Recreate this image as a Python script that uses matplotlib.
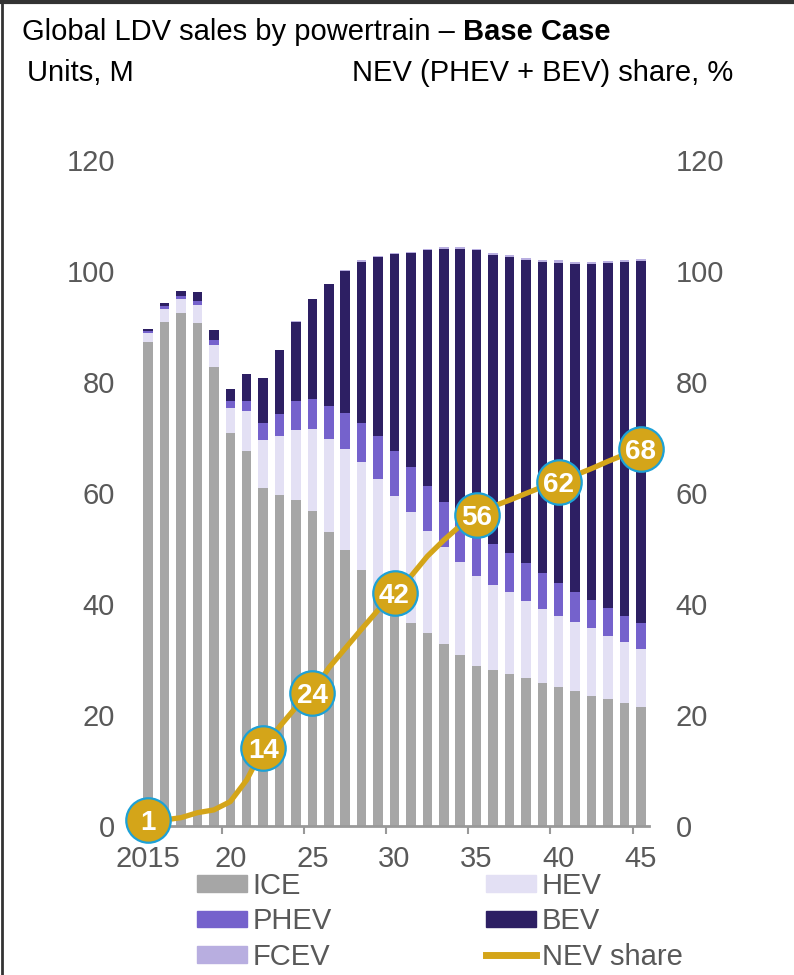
import numpy as np
import matplotlib
matplotlib.use("Agg")
import matplotlib.pyplot as plt
from matplotlib.patches import Patch
from matplotlib.lines import Line2D

plt.rcParams['font.family'] = ['Liberation Sans', 'DejaVu Sans']

years = list(range(2015, 2046))
year_labels = ["2015", "20", "25", "30", "35", "40", "45"]

ice = [87.2, 90.8, 92.4, 90.7, 82.7, 70.9, 67.5, 60.9, 59.7, 58.7,
       56.8, 52.9, 49.8, 46.2, 42.9, 39.6, 36.6, 34.7, 32.8, 30.9,
       28.9, 28.1, 27.4, 26.6, 25.8, 25.0, 24.3, 23.5, 22.9, 22.2, 21.4]
hev = [1.7, 2.4, 2.6, 3.2, 4.0, 4.4, 7.2, 8.6, 10.6, 12.7,
       14.7, 16.9, 18.1, 19.3, 19.7, 19.9, 20.0, 18.5, 17.5, 16.7,
       16.1, 15.3, 14.7, 14.0, 13.3, 12.9, 12.5, 12.1, 11.4, 11.0, 10.5]
phev = [0.3, 0.5, 0.5, 0.7, 0.8, 1.2, 1.9, 3.1, 4.0, 5.2,
        5.4, 5.9, 6.5, 7.2, 7.7, 8.1, 8.1, 8.1, 8.1, 7.9,
        7.6, 7.4, 7.0, 6.7, 6.4, 5.9, 5.4, 5.2, 5.0, 4.7, 4.6]
bev = [0.3, 0.5, 0.9, 1.6, 1.8, 2.3, 4.9, 8.1, 11.4, 14.3,
       18.0, 21.9, 25.6, 29.0, 32.2, 35.5, 38.5, 42.4, 45.6, 48.5,
       51.1, 52.0, 53.4, 54.6, 56.1, 57.7, 59.1, 60.5, 62.1, 63.7, 65.3]
fcev = [0.0, 0.0, 0.0, 0.0, 0.0, 0.0, 0.0, 0.0, 0.1, 0.1,
        0.1, 0.1, 0.2, 0.2, 0.2, 0.2, 0.3, 0.3, 0.3, 0.3,
        0.3, 0.4, 0.4, 0.4, 0.4, 0.4, 0.4, 0.4, 0.4, 0.4, 0.4]

# NEV (PHEV + BEV) share of total sales, %
nev_share = [1, 1.1, 1.5, 2.4, 2.9, 4.4, 8.3, 14, 17.9, 21.4,
             24, 28.5, 32.0, 35.5, 38.9, 42, 45.0, 48.6, 51.5, 54.1,
             56, 57.6, 58.7, 59.9, 61.1, 62, 63.2, 64.4, 65.7, 66.9, 68]
labeled_years = [2015, 2022, 2025, 2030, 2035, 2040, 2045]

C_ICE = "#A6A6A6"
C_HEV = "#E3E0F4"
C_PHEV = "#7562CC"
C_BEV = "#2D1F63"
C_FCEV = "#B8AEE0"
C_NEV = "#D4A519"
C_RING = "#1DA1D6"
C_TICK = "#595959"

fig = plt.figure(figsize=(7.94, 9.75), dpi=100)
ax = fig.add_axes([140 / 794, 1 - 826 / 975, 509 / 794, 666 / 975])

x = np.arange(len(years))
w = 0.58
base = np.zeros(len(years))
for vals, col in [(ice, C_ICE), (hev, C_HEV), (phev, C_PHEV),
                  (bev, C_BEV), (fcev, C_FCEV)]:
    v = np.array(vals)
    ax.bar(x, v, w, bottom=base, color=col, linewidth=0, zorder=2)
    base += v

ax.set_xlim(-0.5, len(years) - 0.5)
ax.set_ylim(0, 120)
ax.set_yticks(np.arange(0, 121, 20))
ax.tick_params(axis='y', length=0, pad=18, labelsize=21, labelcolor=C_TICK)

major = [years.index(2015 + 5 * i) for i in range(len(year_labels))]
ax.set_xticks(major)
ax.set_xticklabels(year_labels)
ax.set_xticks([m - 0.5 for m in major[1:]], minor=True)
ax.tick_params(axis='x', which='major', length=0, pad=14, labelsize=21,
               labelcolor=C_TICK)
ax.tick_params(axis='x', which='minor', length=6, width=1.5, color="#999999")

for s in ['top', 'left', 'right']:
    ax.spines[s].set_visible(False)
ax.spines['bottom'].set_color("#999999")
ax.spines['bottom'].set_linewidth(2)

ax2 = ax.twinx()
ax2.set_ylim(0, 120)
ax2.set_yticks(np.arange(0, 121, 20))
ax2.tick_params(axis='y', length=0, pad=19, labelsize=21, labelcolor=C_TICK)
for s in ax2.spines.values():
    s.set_visible(False)

ax2.plot(x, nev_share, color=C_NEV, lw=3.8, solid_capstyle='round',
         solid_joinstyle='round', zorder=3)
for yr in labeled_years:
    i = years.index(yr)
    ax2.plot(x[i], nev_share[i], 'o', ms=32, mfc=C_NEV, mec=C_RING,
             mew=1.6, zorder=4, clip_on=False)
    ax2.text(x[i], nev_share[i], f"{nev_share[i]:g}", color="white",
             fontsize=20, fontweight='bold', ha='center', va='center_baseline',
             zorder=5, clip_on=False)

# Titles
t1 = fig.text(22 / 794, 1 - 40 / 975, "Global LDV sales by powertrain – ",
              fontsize=21, color="black", va='baseline')
fig.canvas.draw()
bb = t1.get_window_extent()
fig.text(bb.x1 / fig.bbox.width, 1 - 40 / 975, "Base Case", fontsize=21,
         fontweight='bold', color="black", va='baseline')
fig.text(27 / 794, 1 - 81 / 975, "Units, M", fontsize=21, va='baseline')
fig.text(352 / 794, 1 - 81 / 975, "NEV (PHEV + BEV) share, %", fontsize=21,
         va='baseline')

# Legend
handles = [Patch(color=C_ICE), Patch(color=C_PHEV), Patch(color=C_FCEV),
           Patch(color=C_HEV), Patch(color=C_BEV),
           Line2D([], [], color=C_NEV, lw=5)]
labels = ["ICE", "PHEV", "FCEV", "HEV", "BEV", "NEV share"]
fig.legend(handles, labels, ncol=2, frameon=False, fontsize=21,
           loc='upper left', bbox_to_anchor=(197 / 794, 1 - 872 / 975),
           borderpad=0, borderaxespad=0, handlelength=1.7, handleheight=0.5,
           handletextpad=0.2, columnspacing=5.3, labelspacing=0.25,
           labelcolor=C_TICK)

# Frame lines on top and left edges
fig.add_artist(Line2D([0, 1], [0.998, 0.998], transform=fig.transFigure,
                      color="#333333", lw=3))
fig.add_artist(Line2D([0.002, 0.002], [0, 1], transform=fig.transFigure,
                      color="#333333", lw=2))

fig.savefig("out.png", dpi=100)
